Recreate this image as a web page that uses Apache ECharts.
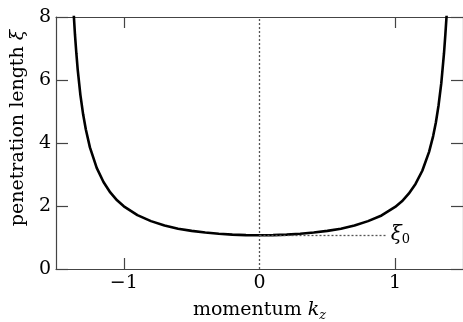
<!DOCTYPE html>
<html>
<head>
<meta charset="utf-8">
<script src="https://cdn.jsdelivr.net/npm/echarts@6/dist/echarts.min.js"></script>
<style>
  html, body { margin: 0; padding: 0; background: #fff; }
  #main { width: 463px; height: 322px; }
</style>
</head>
<body>
<div id="main"></div>
<script>
  // curve: momentum k_z vs penetration length xi
  var momentum = [-1.38, -1.37, -1.36, -1.35, -1.34, -1.32, -1.30, -1.28, -1.25, -1.20, -1.15, -1.10, -1.05, -1.00,
    -0.90, -0.80, -0.70, -0.60, -0.50, -0.40, -0.30, -0.20, -0.10, 0.00,
    0.10, 0.20, 0.30, 0.40, 0.50, 0.60, 0.70, 0.80, 0.90,
    1.00, 1.05, 1.10, 1.15, 1.20, 1.25, 1.28, 1.30, 1.32, 1.34, 1.36, 1.37, 1.38, 1.39];
  var penetration = [8.9, 8.14, 7.43, 6.85, 6.33, 5.52, 4.91, 4.43, 3.86, 3.21, 2.76, 2.43, 2.18, 1.99,
    1.71, 1.52, 1.38, 1.28, 1.21, 1.16, 1.12, 1.09, 1.075, 1.07,
    1.075, 1.09, 1.12, 1.16, 1.21, 1.28, 1.38, 1.52, 1.70,
    1.97, 2.15, 2.39, 2.70, 3.12, 3.72, 4.22, 4.65, 5.20, 5.90, 6.85, 7.45, 8.1, 8.9];
  var xi0 = 1.07;
  var xi0LineEnd = 0.93;
  var xTickLabels = [-1, 0, 1];
  var xTickMarks = [-1, 1];

  var serif = 'DejaVu Serif';
  var frame = '#444';

  function minus(v) {
    return v < 0 ? '\u2212' + Math.abs(v) : String(v);
  }

  var curve = momentum.map(function (k, i) { return [k, penetration[i]]; });

  var chart = echarts.init(document.getElementById('main'));
  chart.setOption({
    animation: false,
    backgroundColor: '#fff',
    grid: { left: 56, right: 0, top: 17, bottom: 53, outerBoundsMode: 'none', containLabel: false },
    xAxis: [{
      type: 'value', min: -1.5, max: 1.5,
      axisLine: { show: true, onZero: false, lineStyle: { color: frame, width: 1.2 } },
      axisTick: { show: true, inside: true, length: 11, customValues: xTickMarks, lineStyle: { color: frame, width: 1.2 } },
      axisLabel: { customValues: xTickLabels, formatter: minus, color: '#000', fontFamily: serif, fontSize: 19, margin: 5 },
      splitLine: { show: false },
      name: '{n|momentum }{i|k}{s|z}',
      nameLocation: 'middle',
      nameGap: 30,
      nameTextStyle: {
        rich: {
          n: { fontFamily: serif, fontSize: 19, color: '#000' },
          i: { fontFamily: serif, fontSize: 19, fontStyle: 'italic', color: '#000' },
          s: { fontFamily: serif, fontSize: 13, fontStyle: 'italic', color: '#000', verticalAlign: 'bottom', padding: [10, 0, 0, 0] }
        }
      }
    }, {
      type: 'value', min: -1.5, max: 1.5, position: 'top',
      axisLine: { show: true, onZero: false, lineStyle: { color: frame, width: 1.2 } },
      axisTick: { show: true, inside: true, length: 11, customValues: xTickMarks, lineStyle: { color: frame, width: 1.2 } },
      axisLabel: { show: false },
      splitLine: { show: false }
    }],
    yAxis: [{
      type: 'value', min: 0, max: 8, interval: 2,
      axisLine: { show: true, onZero: false, lineStyle: { color: frame, width: 1.2 } },
      axisTick: { show: true, inside: true, length: 12, lineStyle: { color: frame, width: 1.2 } },
      axisLabel: { color: '#000', fontFamily: serif, fontSize: 19, margin: 5 },
      splitLine: { show: false },
      name: '{n|penetration length }{i|ξ}',
      nameLocation: 'middle',
      nameGap: 25,
      nameTextStyle: {
        padding: [0, 0, 0, 30],
        rich: {
          n: { fontFamily: serif, fontSize: 19, color: '#000' },
          i: { fontFamily: serif, fontSize: 19, fontStyle: 'italic', color: '#000' }
        }
      }
    }, {
      type: 'value', min: 0, max: 8, interval: 2, position: 'right',
      axisLine: { show: true, onZero: false, lineStyle: { color: frame, width: 1.2 } },
      axisTick: { show: true, inside: true, length: 12, lineStyle: { color: frame, width: 1.2 } },
      axisLabel: { show: false },
      splitLine: { show: false }
    }],
    series: [{
      type: 'line',
      data: curve,
      showSymbol: false,
      smooth: false,
      clip: true,
      lineStyle: { color: '#000', width: 2.6 },
      z: 3,
      markLine: {
        silent: true,
        symbol: 'none',
        lineStyle: { color: '#555', width: 1.3, type: [2, 2] },
        data: [
          [{ coord: [0, 0], label: { show: false } }, { coord: [0, 8] }],
          [{ coord: [0, xi0] }, {
            coord: [xi0LineEnd, xi0],
            label: {
              show: true, position: 'end', distance: 5,
              formatter: '{i|ξ}{s|0}',
              rich: {
                i: { fontFamily: serif, fontSize: 20, fontStyle: 'italic', color: '#000' },
                s: { fontFamily: serif, fontSize: 13, color: '#000', verticalAlign: 'bottom', padding: [8, 0, 0, 0] }
              }
            }
          }]
        ]
      }
    }]
  });
</script>
</body>
</html>
